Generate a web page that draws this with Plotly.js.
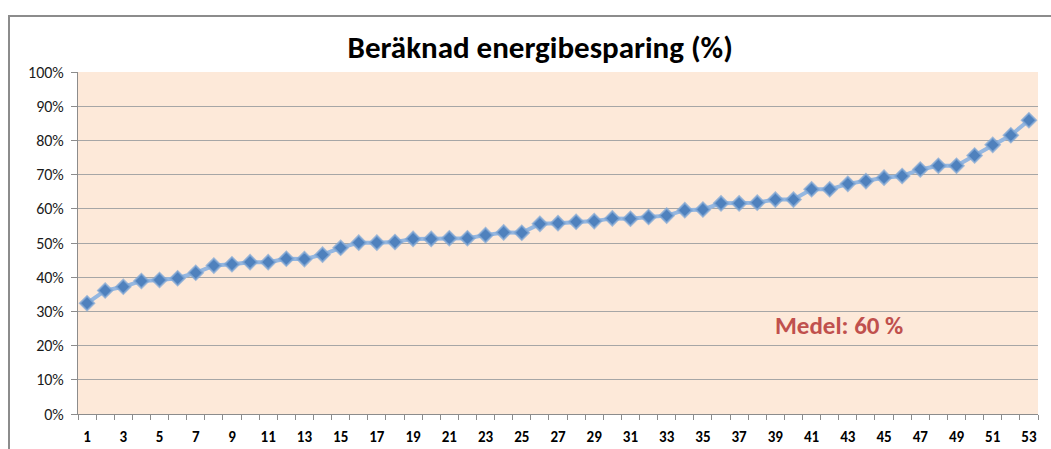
<!DOCTYPE html>
<html>
<head>
<meta charset="utf-8">
<script src="https://cdn.plot.ly/plotly-3.0.1.min.js"></script>
<style>
  html, body { margin: 0; padding: 0; background: #fff; }
  #wrap { position: relative; width: 1051px; height: 449px; overflow: hidden; }
  #chart { width: 1051px; height: 449px; }
  #frame { position: absolute; left: 8px; top: 15px; width: 1100px; height: 500px;
           border-top: 2px solid #8c8c8c; border-left: 2px solid #8c8c8c; pointer-events: none; }
</style>
</head>
<body>
<div id="wrap">
  <div id="chart"></div>
  <div id="frame"></div>
</div>
<script>
const titleText = "Beräknad energibesparing (%)";
const annotationText = "Medel: 60 %";
const categories = [];
for (let i = 1; i <= 53; i++) categories.push(i);
const savings = [
  0.324, 0.361, 0.372, 0.389, 0.392, 0.397, 0.413, 0.434, 0.438, 0.444,
  0.444, 0.454, 0.453, 0.466, 0.486, 0.501, 0.501, 0.503, 0.512, 0.512,
  0.514, 0.514, 0.523, 0.531, 0.530, 0.556, 0.558, 0.562, 0.564, 0.572,
  0.571, 0.576, 0.580, 0.596, 0.598, 0.616, 0.616, 0.618, 0.627, 0.627,
  0.657, 0.657, 0.673, 0.681, 0.691, 0.696, 0.715, 0.726, 0.726, 0.756,
  0.787, 0.815, 0.859
];
const xTickVals = categories.filter(c => c % 2 === 1);
const yTickVals = [0, 0.1, 0.2, 0.3, 0.4, 0.5, 0.6, 0.7, 0.8, 0.9, 1.0];

const FONT = "Carlito, Lato, 'Open Sans', sans-serif";

const trace = {
  x: categories,
  y: savings,
  type: 'scatter',
  mode: 'lines+markers',
  line: { color: '#95B7E0', width: 4 },
  marker: { symbol: 'diamond', size: 11, color: '#4F81BD',
            line: { color: 'rgba(130,168,214,0.75)', width: 2 } },
  hoverinfo: 'x+y'
};

const layout = {
  width: 1051, height: 449,
  margin: { l: 78, r: 13, t: 72, b: 35 },
  paper_bgcolor: '#ffffff',
  plot_bgcolor: '#FDE9D9',
  showlegend: false,
  font: { family: FONT, color: '#1a1a1a' },
  title: { text: '<b>' + titleText + '</b>', font: { family: FONT, size: 31, color: '#000' },
           x: 0.514, xanchor: 'center', y: 0.895, yanchor: 'middle' },
  xaxis: {
    range: [0.5, 53.5],
    tickvals: xTickVals,
    ticktext: xTickVals.map(v => '<b>' + v + '</b>'),
    ticks: '',
    tickfont: { family: FONT, size: 15, color: '#000' },
    showgrid: false,
    zeroline: false,
    showline: true, linecolor: '#8c8c8c', linewidth: 1,
    minor: { tick0: 0.5, dtick: 1, ticks: 'outside', ticklen: 5, tickcolor: '#8c8c8c', showgrid: false },
    ticklabelstandoff: 9,
    fixedrange: true
  },
  yaxis: {
    range: [0, 1],
    tickvals: yTickVals,
    tickformat: '.0%',
    ticks: 'outside', ticklen: 6, tickcolor: '#8c8c8c',
    tickfont: { family: FONT, size: 16, color: '#1a1a1a' },
    showgrid: true, gridcolor: '#A6A6A6', gridwidth: 1,
    zeroline: false,
    showline: true, linecolor: '#8c8c8c', linewidth: 1,
    ticklabelstandoff: 4,
    fixedrange: true
  },
  annotations: [{
    x: 42.5, y: 0.26, xref: 'x', yref: 'y',
    text: '<b>' + annotationText + '</b>',
    showarrow: false,
    font: { family: FONT, size: 25, color: '#C0504D' },
    xanchor: 'center', yanchor: 'middle'
  }]
};

Plotly.newPlot('chart', [trace], layout, { displayModeBar: false, staticPlot: true });
</script>
</body>
</html>
